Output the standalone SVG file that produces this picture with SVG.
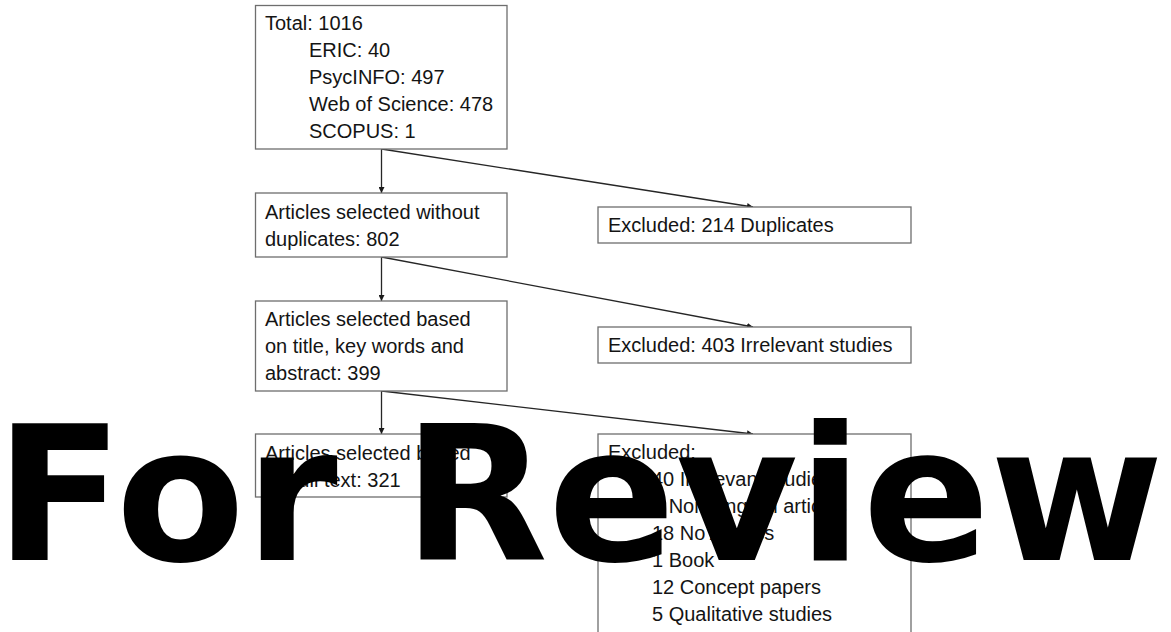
<svg xmlns="http://www.w3.org/2000/svg" width="1171" height="632" viewBox="0 0 1171 632">
<defs>
<marker id="arr" viewBox="0 0 8 8" refX="8" refY="4" markerWidth="6" markerHeight="6" markerUnits="userSpaceOnUse" orient="auto">
<path d="M0,0 L8,4 L0,8 z" fill="#1a1a1a"/>
</marker>
<style>
.box{fill:#fff;stroke:#6e6e6e;stroke-width:1.3}
.t{font-family:"Liberation Sans",Arial,sans-serif;font-size:20px;fill:#141414}
.c{stroke:#262626;stroke-width:1.3;fill:none;marker-end:url(#arr)}
.wm{font-family:"DejaVu Sans",Verdana,sans-serif;font-weight:bold;font-size:188px;fill:#000}
</style>
</defs>
<rect width="1171" height="632" fill="#fff"/>
<g id="connectors">
<line class="c" x1="381.5" y1="149" x2="381.5" y2="193"/>
<line class="c" x1="381.5" y1="149" x2="753" y2="207"/>
<line class="c" x1="381.5" y1="257" x2="381.5" y2="301"/>
<line class="c" x1="381.5" y1="257" x2="753" y2="327"/>
<line class="c" x1="381.5" y1="391" x2="381.5" y2="434"/>
<line class="c" x1="381.5" y1="391" x2="753" y2="434"/>
</g>
<g id="total">
<rect class="box" x="255.5" y="5.5" width="251.5" height="143.5"/>
<text class="t" x="265" y="30">Total: 1016</text>
<text class="t" x="309" y="57">ERIC: 40</text>
<text class="t" x="309" y="84">PsycINFO: 497</text>
<text class="t" x="309" y="111">Web of Science: 478</text>
<text class="t" x="309" y="138">SCOPUS: 1</text>
</g>
<g id="no-duplicates">
<rect class="box" x="255.5" y="193" width="251.5" height="64"/>
<text class="t" x="265" y="219">Articles selected without</text>
<text class="t" x="265" y="246">duplicates: 802</text>
</g>
<g id="excluded-duplicates">
<rect class="box" x="598" y="207" width="313" height="36"/>
<text class="t" x="608" y="232">Excluded: 214 Duplicates</text>
</g>
<g id="title-abstract">
<rect class="box" x="255.5" y="301" width="251.5" height="90"/>
<text class="t" x="265" y="326">Articles selected based</text>
<text class="t" x="265" y="353">on title, key words and</text>
<text class="t" x="265" y="380">abstract: 399</text>
</g>
<g id="excluded-irrelevant">
<rect class="box" x="598" y="327" width="313" height="36"/>
<text class="t" x="608" y="352">Excluded: 403 Irrelevant studies</text>
</g>
<g id="full-text">
<rect class="box" x="255.5" y="434" width="251.5" height="63"/>
<text class="t" x="265" y="460">Articles selected based</text>
<text class="t" x="265" y="487">on full text: 321</text>
</g>
<g id="excluded-full">
<rect class="box" x="598" y="434" width="313" height="210"/>
<text class="t" x="608" y="459">Excluded:</text>
<text class="t" x="652" y="486">40 Irrelevant studies</text>
<text class="t" x="652" y="513">2 Non-English articles</text>
<text class="t" x="652" y="540">18 No Access</text>
<text class="t" x="652" y="567">1 Book</text>
<text class="t" x="652" y="594">12 Concept papers</text>
<text class="t" x="652" y="621">5 Qualitative studies</text>
</g>
<text class="wm" x="-5" y="560">For Review</text>
</svg>
